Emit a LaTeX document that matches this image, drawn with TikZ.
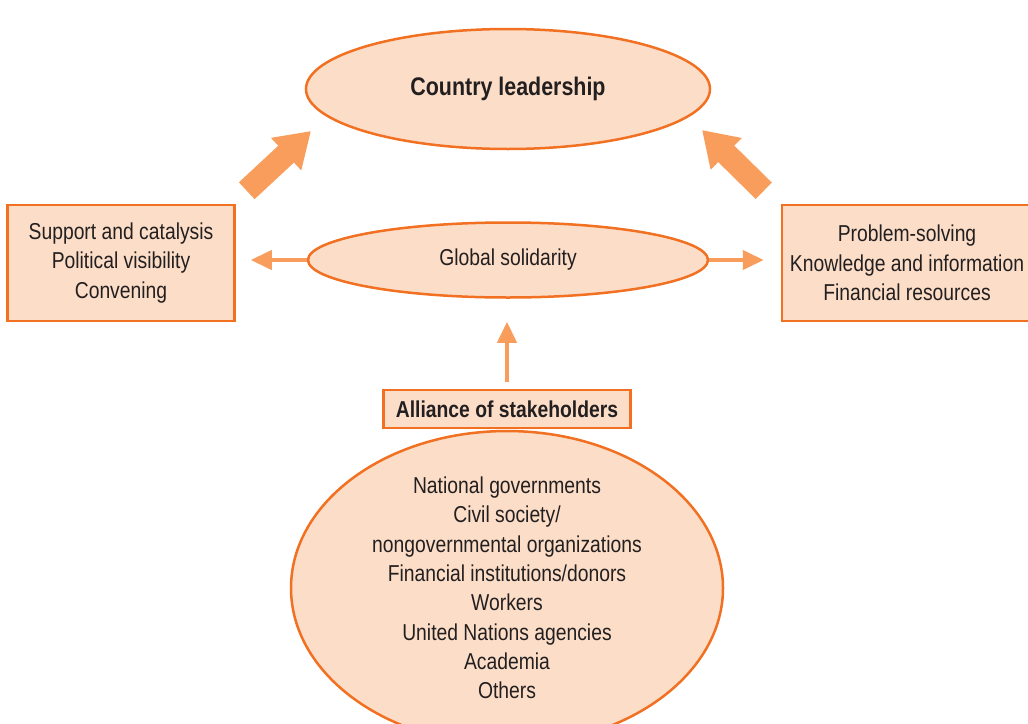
\documentclass[tikz,border=0pt]{standalone}
\usepackage{fontspec}
\setmainfont{Liberation Sans}[FakeStretch=0.84]
\usetikzlibrary{arrows.meta,positioning,shapes.geometric}
\definecolor{peach}{RGB}{252,222,200}
\definecolor{rim}{RGB}{241,112,34}
\definecolor{pale}{RGB}{248,157,92}
\definecolor{ink}{RGB}{35,31,32}
\tikzstyle{oval}=[draw=rim, fill=peach, ellipse, line width=2.5pt, inner sep=0pt, text=ink, align=center]
\tikzstyle{listbox}=[draw=rim, fill=peach, line width=2.5pt, inner sep=0pt, text=ink, align=center]
\tikzstyle{flow}=[draw=pale, line width=4pt, -{Triangle[length=21pt,width=19pt]}]
\tikzstyle{bigflow}=[draw=pale, line width=23pt, -{Triangle[length=34pt,width=42pt]}]
\tikzset{%
    body/.style={font=\fontsize{23}{29.3}\selectfont},
    title/.style={font=\fontsize{25.5}{29}\selectfont\bfseries},
}

\begin{document}
\begin{tikzpicture}[x=1pt, y=-1pt, node distance=171pt]
    \useasboundingbox (0,0) rectangle (1028,723);
    \node (lead) [oval, title, minimum width=404pt, minimum height=120pt] at (508,89) {Country leadership};
    \node (solid) [oval, body, minimum width=400pt, minimum height=75pt, below of=lead] {Global solidarity};
    %
    \node (support) [listbox, body, minimum width=227pt, minimum height=116pt] at (121,263)
        {Support and catalysis\\Political visibility\\Convening};
    \node (means) [listbox, body, minimum width=250pt, minimum height=116pt] at (907,263)
        {Problem-solving\\Knowledge and information\\Financial resources};
    %
    \node (alliance) [listbox, body, font=\fontsize{23}{29.3}\selectfont\bfseries, minimum width=247pt, minimum height=38pt] at (507,409)
        {Alliance of stakeholders};
    \node (members) [oval, body, minimum width=432pt, minimum height=272pt, below of=alliance, node distance=179pt]
        {National governments\\Civil society/\\nongovernmental organizations\\Financial institutions/donors\\Workers\\United Nations agencies\\Academia\\Others};
    %
    \coordinate (tailL) at ([shift={(11,-13)}]support.north east);
    \coordinate (tipL) at (311,131);
    \coordinate (tailR) at ([shift={(-17,-13)}]means.north west);
    \coordinate (tipR) at (702,130);
    \draw [bigflow] (tailL) -- (tipL);
    \draw [bigflow] (tailR) -- (tipR);
    %
    \draw [flow, shorten >=15pt] (solid.west) -- (solid.west -| support.east);
    \draw [flow, shorten >=17pt] (solid.east) -- (solid.east -| means.west);
    \draw [flow, shorten <=7pt, shorten >=23pt] (alliance.north) -- (alliance.north |- solid.south);
\end{tikzpicture}
\end{document}
